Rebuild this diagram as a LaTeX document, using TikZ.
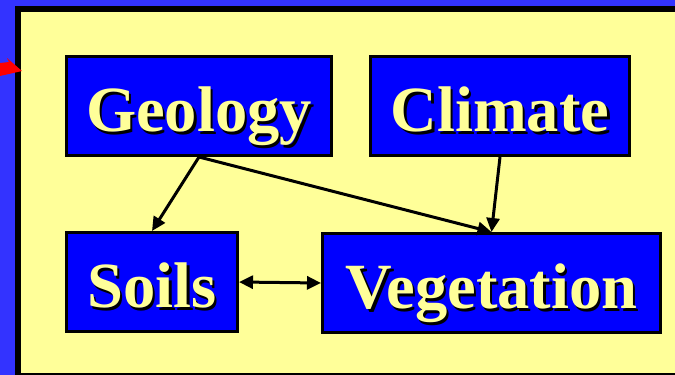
\documentclass[tikz,border=0pt]{standalone}
\usepackage{fontspec}
\setmainfont{Liberation Serif}
\usetikzlibrary{arrows.meta}
\definecolor{bgblue}{HTML}{3333FF}
\definecolor{panel}{HTML}{FFFF99}
\definecolor{boxblue}{HTML}{0000FF}
\definecolor{txt}{HTML}{FFFF99}
\newcommand\shtext[1]{\leavevmode\rlap{\kern2.5pt\raisebox{-2.5pt}{\textcolor{black}{#1}}}\textcolor{txt}{#1}}
\tikzset{
  topic/.style={draw=black, line width=3pt, fill=boxblue, minimum height=99pt,
    inner sep=0pt, text height=51pt, text depth=0pt,
    font=\fontsize{64.5}{64}\selectfont\bfseries},
  tip/.style={Triangle[length=14pt,width=13pt]},
  link/.style={line width=3pt, -{Triangle[length=14pt,width=13pt]}},
}
\begin{document}
\begin{tikzpicture}[x=1pt,y=-1pt]
\useasboundingbox (0,0) rectangle (675,375);
\fill[bgblue] (0,0) rectangle (675,375);
\fill[black] (15,6) rectangle (680,380);
\fill[panel] (21,12) rectangle (680,373);
\fill[red] (0,63) -- (9,62) -- (7,58) -- (22,71) -- (0,76) -- cycle;
\node[topic, minimum width=265pt] (geo) at (199,106) {\shtext{Geology}};
\node[topic, minimum width=259pt] (clim) at (500,106) {\shtext{Climate}};
\node[topic, minimum width=171pt] (soil) at (152,282) {\shtext{Soils}};
\node[topic, minimum width=338pt] (veg) at (491.5,283) {\shtext{Vegetation}};
\draw[link] (geo.south) -- (soil.north);
\draw[link] (geo.south) -- (veg.north);
\draw[link] (clim.south) -- (veg.north);
\draw[line width=3pt, {Triangle[length=14pt,width=13pt]}-{Triangle[length=14pt,width=13pt]}] (soil.east) -- (veg.west);
\end{tikzpicture}
\end{document}
